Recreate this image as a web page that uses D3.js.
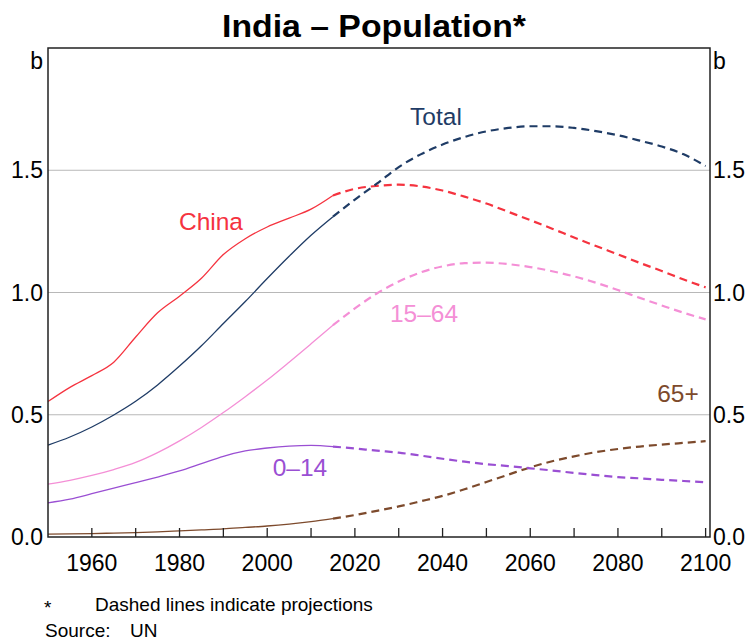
<!DOCTYPE html>
<html>
<head>
<meta charset="utf-8">
<script src="https://cdn.jsdelivr.net/npm/d3@7"></script>
<style>
  body { margin: 0; background: #fff; }
  svg { font-family: Arial, "Liberation Sans", sans-serif; }
</style>
</head>
<body>
<svg width="749" height="643"></svg>
<script>
// population, billions, every 5 years 1950-2100 (UN)
var years = d3.range(1950, 2101, 5);
var total = [0.376, 0.409, 0.450, 0.499, 0.555, 0.622, 0.699, 0.782, 0.873, 0.963, 1.057, 1.148, 1.234, 1.310, 1.380, 1.445, 1.513, 1.565, 1.605, 1.636, 1.659, 1.673, 1.680, 1.680, 1.673, 1.660, 1.643, 1.621, 1.597, 1.565, 1.517];
var china = [0.554, 0.612, 0.660, 0.715, 0.818, 0.917, 0.985, 1.058, 1.155, 1.220, 1.268, 1.304, 1.341, 1.397, 1.424, 1.436, 1.441, 1.434, 1.417, 1.392, 1.364, 1.330, 1.296, 1.261, 1.225, 1.190, 1.156, 1.121, 1.088, 1.053, 1.021];
var age1564 = [0.216, 0.232, 0.252, 0.276, 0.305, 0.345, 0.393, 0.448, 0.509, 0.574, 0.642, 0.715, 0.790, 0.866, 0.935, 0.996, 1.045, 1.082, 1.107, 1.120, 1.122, 1.116, 1.104, 1.087, 1.066, 1.040, 1.010, 0.978, 0.947, 0.917, 0.890];
var age014 = [0.140, 0.155, 0.177, 0.200, 0.222, 0.245, 0.270, 0.300, 0.330, 0.352, 0.364, 0.372, 0.375, 0.370, 0.362, 0.353, 0.345, 0.333, 0.320, 0.308, 0.298, 0.290, 0.281, 0.272, 0.262, 0.253, 0.245, 0.240, 0.234, 0.229, 0.224];
var age65 = [0.012, 0.013, 0.014, 0.016, 0.018, 0.021, 0.025, 0.029, 0.033, 0.039, 0.045, 0.053, 0.063, 0.075, 0.090, 0.107, 0.125, 0.146, 0.168, 0.195, 0.225, 0.255, 0.285, 0.310, 0.330, 0.347, 0.360, 0.370, 0.378, 0.385, 0.392];
var lastActual = 2015;

var yTicks = [0, 0.5, 1.0, 1.5];
var xTicks = d3.range(1950, 2101, 10);
var xLabels = [1960, 1980, 2000, 2020, 2040, 2060, 2080, 2100];

var series = [
  {name: "65+",   values: age65,   color: "#7d4a2c", label: [678, 393]},
  {name: "0–14",  values: age014,  color: "#9a4fd3", label: [300, 467]},
  {name: "15–64", values: age1564, color: "#f48fd6", label: [424, 313]},
  {name: "China", values: china,   color: "#f5333f", label: [211, 221]},
  {name: "Total", values: total,   color: "#1f3c66", label: [436, 116]}
];

var svg = d3.select("svg"),
    margin = {top: 48, right: 39, bottom: 106, left: 48},
    width = 749 - margin.left - margin.right,
    height = 643 - margin.top - margin.bottom;

var x = d3.scaleLinear().domain([1950, 2101]).range([0, width]);
var y = d3.scaleLinear().domain([0, 2]).range([height, 0]);

var g = svg.append("g").attr("transform", "translate(" + margin.left + "," + margin.top + ")");

// title
svg.append("text")
    .attr("x", 374).attr("y", 37)
    .attr("text-anchor", "middle")
    .attr("font-size", 31).attr("font-weight", "bold")
    .attr("textLength", 304).attr("lengthAdjust", "spacingAndGlyphs")
    .text("India – Population*");

// gridlines
g.selectAll(".grid").data(yTicks.filter(function(d) { return d > 0; }))
  .enter().append("line")
    .attr("x1", 0).attr("x2", width)
    .attr("y1", function(d) { return y(d); }).attr("y2", function(d) { return y(d); })
    .attr("stroke", "#b8b8b8").attr("stroke-width", 1);

// lines
var line = d3.line()
    .x(function(d) { return x(d.year); })
    .y(function(d) { return y(d.value); })
    .curve(d3.curveMonotoneX);

series.forEach(function(s) {
  var pts = years.map(function(yr, i) { return {year: yr, value: s.values[i]}; });
  var hist = pts.filter(function(d) { return d.year <= lastActual; });
  var proj = pts.filter(function(d) { return d.year >= lastActual; });
  g.append("path").datum(hist)
      .attr("d", line).attr("fill", "none")
      .attr("stroke", s.color).attr("stroke-width", 1.3);
  g.append("path").datum(proj)
      .attr("d", line).attr("fill", "none")
      .attr("stroke", s.color).attr("stroke-width", 2.2)
      .attr("stroke-dasharray", "8,5");
  svg.append("text")
      .attr("x", s.label[0]).attr("y", s.label[1])
      .attr("dy", "0.35em")
      .attr("text-anchor", "middle")
      .attr("font-size", 24.5)
      .attr("fill", s.color)
      .text(s.name);
});

// frame
g.append("rect")
    .attr("width", width).attr("height", height)
    .attr("fill", "none").attr("stroke", "#222").attr("stroke-width", 1.5);

// x ticks (inside, upward)
g.selectAll(".xtick").data(xTicks.slice(1))
  .enter().append("line")
    .attr("x1", function(d) { return x(d); }).attr("x2", function(d) { return x(d); })
    .attr("y1", height).attr("y2", height - 9)
    .attr("stroke", "#222").attr("stroke-width", 1.3);

g.selectAll(".xlab").data(xLabels)
  .enter().append("text")
    .attr("x", function(d) { return x(d); })
    .attr("y", height + 34)
    .attr("text-anchor", "middle")
    .attr("font-size", 23)
    .text(function(d) { return d; });

// y labels both sides
var fmt = d3.format(".1f");
g.selectAll(".ylabL").data(yTicks)
  .enter().append("text")
    .attr("x", -5).attr("y", function(d) { return y(d); })
    .attr("dy", "0.35em").attr("text-anchor", "end")
    .attr("font-size", 23)
    .text(fmt);
g.selectAll(".ylabR").data(yTicks)
  .enter().append("text")
    .attr("x", width + 3).attr("y", function(d) { return y(d); })
    .attr("dy", "0.35em").attr("text-anchor", "start")
    .attr("font-size", 23)
    .text(fmt);

g.append("text").attr("x", -5).attr("y", 13).attr("dy", "0.35em")
    .attr("text-anchor", "end").attr("font-size", 23).text("b");
g.append("text").attr("x", width + 3).attr("y", 13).attr("dy", "0.35em")
    .attr("text-anchor", "start").attr("font-size", 23).text("b");

// notes
svg.append("text").attr("x", 44).attr("y", 614).attr("font-size", 19).text("*");
svg.append("text").attr("x", 95).attr("y", 611).attr("font-size", 19).text("Dashed lines indicate projections");
svg.append("text").attr("x", 45).attr("y", 637).attr("font-size", 19).text("Source:");
svg.append("text").attr("x", 130).attr("y", 637).attr("font-size", 19).text("UN");
</script>
</body>
</html>
